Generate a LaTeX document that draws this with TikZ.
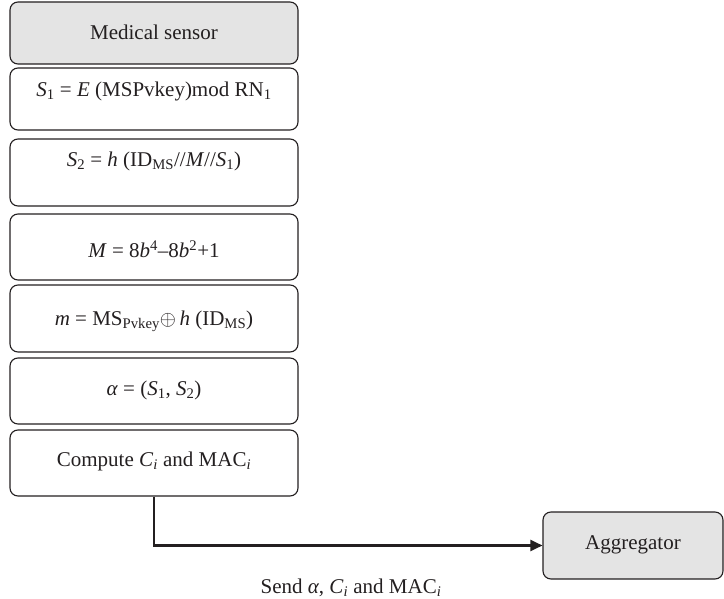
\documentclass[tikz,border=0pt]{standalone}
\usepackage{fontspec}
\setmainfont{Liberation Serif}
\usetikzlibrary{arrows.meta}
\newcommand\iv[1]{\textit{#1}}
\newcommand\sbs[1]{\textsubscript{#1}}
\newcommand\sps[1]{\textsuperscript{#1}}
\definecolor{boxgray}{HTML}{E4E4E4}
\definecolor{linec}{HTML}{231F20}
\tikzset{
  box/.style={draw=linec, line width=1.1pt, rounded corners=8pt, inner sep=0pt, minimum width=288pt},
  graybox/.style={box, fill=boxgray},
  txt/.style={inner sep=0pt, font=\fontsize{21}{25}\selectfont, text=linec},
  conn/.style={draw=linec, line width=2.4pt, -{Triangle[length=12pt,width=11pt]}}
}
\begin{document}
\begin{tikzpicture}[x=1pt,y=-1pt]
\useasboundingbox (0,0) rectangle (724,599);
\node[graybox, minimum height=62pt] (b1) at (154,33) {};
\node[box, minimum height=62pt] (b2) at (154,99) {};
\node[box, minimum height=67pt] (b3) at (154,172.5) {};
\node[box, minimum height=66pt] (b4) at (154,247) {};
\node[box, minimum height=67pt] (b5) at (154,318.5) {};
\node[box, minimum height=66pt] (b6) at (154,391) {};
\node[box, minimum height=66pt] (b7) at (154,463) {};
\node[graybox, minimum width=180pt, minimum height=67pt] (agg) at (633,545.5) {};

\node[txt] (t1) at (154,32) {Medical sensor};
\node[txt] (t2) at (154,91) {\iv{S}\sbs{1} = \iv{E} (MSPvkey)mod RN\sbs{1}};
\node[txt] (t3) at (154,161) {\iv{S}\sbs{2} = \iv{h} (ID\sbs{MS}//\iv{M}//\iv{S}\sbs{1})};
\node[txt] (t4) at (154,249) {\iv{M} = 8\iv{b}\sps{4}–8\iv{b}\sps{2}+1};
\node[txt] (t5) at (154,321) {\iv{m} = MS\sbs{Pvkey}$\oplus$\,\iv{h} (ID\sbs{MS})};
\node[txt] (t6) at (154,390) {\iv{α} = (\iv{S}\sbs{1}, \iv{S}\sbs{2})};
\node[txt] (t7) at (154,461) {Compute \iv{C}\sbs{\iv{i}} and MAC\sbs{\iv{i}}};
\node[txt] (ta) at (633,545) {Aggregator};
\node[txt] (lab) at (351,588) {Send \iv{α}, \iv{C}\sbs{\iv{i}} and MAC\sbs{\iv{i}}};

\draw[conn] (b7.south) |- (agg.west);
\end{tikzpicture}
\end{document}
